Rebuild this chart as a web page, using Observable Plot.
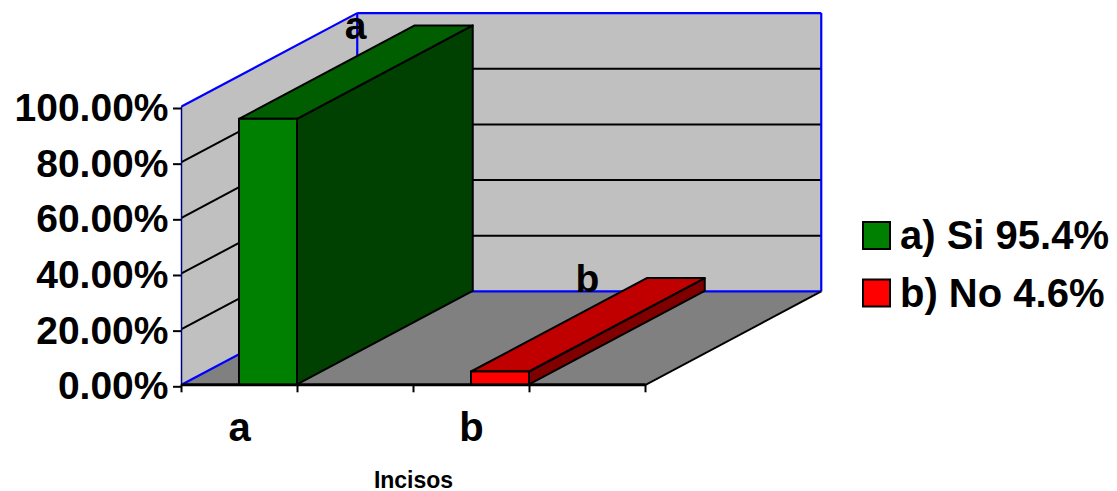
<!DOCTYPE html>
<html>
<head>
<meta charset="utf-8">
<script src="https://cdn.jsdelivr.net/npm/d3@7"></script>
<script src="https://cdn.jsdelivr.net/npm/@observablehq/plot@0.6"></script>
<style>
  body { margin: 0; background: #fff; }
  #wrap { position: relative; width: 1117px; height: 491px; }
  #legend { position: absolute; left: 0; top: 0; pointer-events: none; }
</style>
</head>
<body>
<div id="wrap"></div>
<script>
// ---- data ----
const categories = ["a", "b"];
const values = [0.954, 0.046];
const legendLabels = ["a) Si 95.4%", "b) No 4.6%"];
const yTicks = [0, 0.2, 0.4, 0.6, 0.8, 1.0];
const xTicks = [0, 1, 2, 3, 4];
const frontColors = ["#008000", "#ff0000"];
const topColors = ["#005e00", "#c00000"];
const sideColors = ["#004000", "#800000"];
const xTitle = "Incisos";

// ---- projection constants (3D look) ----
const nBins = 4;          // x axis units (ticks)
const band = 2;           // units per category
const barOffset = 0.25 * band;
const barWidth = 0.25 * band;
const depthX = 1.515;     // depth offset in x units
const depthY = 0.3356;    // depth offset in y units
const font = "Liberation Sans, Arial, sans-serif";

const gridVals = yTicks.filter(v => v > 0 && v < 1);

const marks = [];
// walls
marks.push(Plot.areaY([{x: 0, y1: 0, y2: 1}, {x: depthX, y1: depthY, y2: 1 + depthY}],
  {x: "x", y1: "y1", y2: "y2", fill: "#c0c0c0"}));
marks.push(Plot.areaY([{x: depthX, y1: depthY, y2: 1 + depthY}, {x: nBins + depthX, y1: depthY, y2: 1 + depthY}],
  {x: "x", y1: "y1", y2: "y2", fill: "#c0c0c0"}));
// floor
marks.push(Plot.areaX([{y: 0, x1: 0, x2: nBins}, {y: depthY, x1: depthX, x2: nBins + depthX}],
  {y: "y", x1: "x1", x2: "x2", fill: "#808080"}));
// gridlines
marks.push(Plot.link(gridVals, {x1: 0, y1: d => d, x2: depthX, y2: d => d + depthY, stroke: "black", strokeWidth: 2}));
marks.push(Plot.link(gridVals, {x1: depthX, y1: d => d + depthY, x2: nBins + depthX, y2: d => d + depthY, stroke: "black", strokeWidth: 2}));
// blue wall borders
const blue = [
  {x1: 0, y1: 1, x2: depthX, y2: 1 + depthY},
  {x1: depthX, y1: 1 + depthY, x2: nBins + depthX, y2: 1 + depthY},
  {x1: nBins + depthX, y1: depthY, x2: nBins + depthX, y2: 1 + depthY},
  {x1: depthX, y1: depthY, x2: depthX, y2: 1 + depthY},
  {x1: depthX, y1: depthY, x2: nBins + depthX, y2: depthY},
  {x1: 0, y1: 0, x2: depthX, y2: depthY}
];
marks.push(Plot.link(blue, {x1: "x1", y1: "y1", x2: "x2", y2: "y2", stroke: "#0000ff", strokeWidth: 2.2}));
marks.push(Plot.link([{x1: 0, y1: 0, x2: 0, y2: 1}], {x1: "x1", y1: "y1", x2: "x2", y2: "y2", stroke: "#000080", strokeWidth: 1.5}));
// floor edges
marks.push(Plot.link([{x1: nBins, y1: 0, x2: nBins + depthX, y2: depthY}], {x1: "x1", y1: "y1", x2: "x2", y2: "y2", stroke: "black", strokeWidth: 2}));
marks.push(Plot.link([{x1: 0, y1: 0, x2: nBins, y2: 0}], {x1: "x1", y1: "y1", x2: "x2", y2: "y2", stroke: "black", strokeWidth: 3}));

// bars
categories.forEach((c, i) => {
  const x0 = band * i + barOffset;
  const x1 = x0 + barWidth;
  const v = values[i];
  // side face
  marks.push(Plot.areaY([{x: x1, y1: 0, y2: v}, {x: x1 + depthX, y1: depthY, y2: v + depthY}],
    {x: "x", y1: "y1", y2: "y2", fill: sideColors[i], stroke: "black", strokeWidth: 2, strokeLinejoin: "round"}));
  // top face
  marks.push(Plot.areaX([{y: v, x1: x0, x2: x1}, {y: v + depthY, x1: x0 + depthX, x2: x1 + depthX}],
    {y: "y", x1: "x1", x2: "x2", fill: topColors[i], stroke: "black", strokeWidth: 2, strokeLinejoin: "round"}));
  // front face
  marks.push(Plot.rect([{x1: x0, x2: x1, y1: 0, y2: v}],
    {x1: "x1", x2: "x2", y1: "y1", y2: "y2", fill: frontColors[i], stroke: "black", strokeWidth: 2}));
});

// axes
marks.push(Plot.axisX({ticks: xTicks, tickSize: 8, tickFormat: () => "", strokeWidth: 2, color: "black", label: null}));
marks.push(Plot.axisY({ticks: yTicks, tickSize: 8, tickPadding: 5, tickFormat: d3.format(".2%"),
  fontSize: 39, fontWeight: "bold", fontFamily: font, strokeWidth: 2, color: "black", dy: 2, label: null}));

// data labels
marks.push(Plot.text(categories, {
  x: (d, i) => band * i + barOffset + 1,
  y: (d, i) => values[i] + depthY,
  text: d => d, dy: 13, lineAnchor: "bottom",
  fontSize: 39, fontWeight: "bold", fontFamily: font, fill: "black"
}));
// category labels
marks.push(Plot.text(categories, {
  x: (d, i) => band * i + barOffset,
  y: 0, text: d => d, dy: 56, lineAnchor: "bottom",
  fontSize: 40, fontWeight: "bold", fontFamily: font, fill: "black"
}));
// x title
marks.push(Plot.text([xTitle], {
  x: nBins / 2, y: 0, text: d => d, dy: 103, lineAnchor: "bottom",
  fontSize: 23, fontWeight: "bold", fontFamily: font, fill: "black"
}));

const chart = Plot.plot({
  width: 1117,
  height: 491,
  marginLeft: 181,
  marginRight: 1117 - 645,
  marginTop: 106,
  marginBottom: 491 - 384.3,
  x: {type: "linear", domain: [0, nBins]},
  y: {type: "linear", domain: [0, 1]},
  style: {background: "white", overflow: "visible", fontFamily: font},
  marks
});
document.getElementById("wrap").appendChild(chart);

// legend
const leg = d3.create("svg").attr("id", "legend").attr("width", 1117).attr("height", 491);
const rowH = 57.5;
legendLabels.forEach((lab, i) => {
  leg.append("rect").attr("x", 863).attr("y", 222 + i * rowH).attr("width", 27).attr("height", 27)
    .attr("fill", frontColors[i]).attr("stroke", "black").attr("stroke-width", 2);
  leg.append("text").attr("x", 900).attr("y", 249 + i * rowH).text(lab)
    .attr("font-family", font).attr("font-weight", "bold").attr("font-size", 40).attr("fill", "black");
});
document.getElementById("wrap").appendChild(leg.node());
</script>
</body>
</html>
